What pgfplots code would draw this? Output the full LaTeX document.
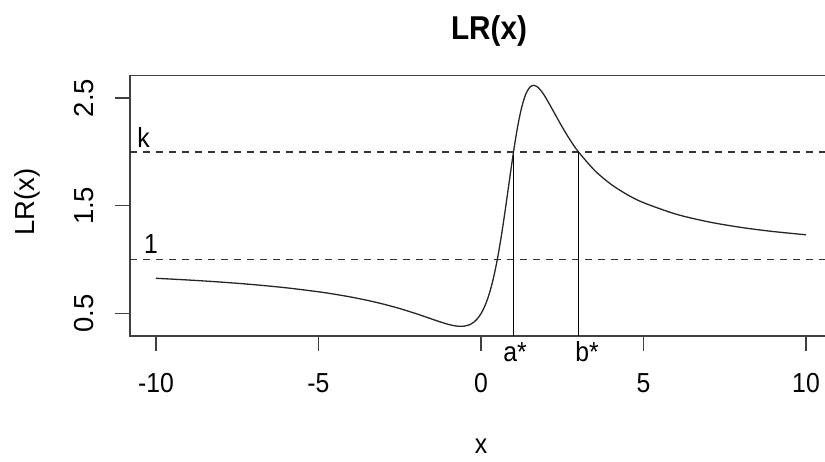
\documentclass[border=0pt]{standalone}
\usepackage{fontspec}
\setmainfont{Liberation Sans}[FakeStretch=0.9]
\newfontfamily\rotfont{Liberation Sans}
\usepackage{pgfplots}
\pgfplotsset{compat=1.18}

\begin{document}
\begin{tikzpicture}
\begin{axis}[
    at={(130bp,126bp)}, anchor=south west,
    scale only axis,
    width=702bp, height=260.3bp,
    xmin=-10.8, xmax=10.8,
    ymin=0.2926, ymax=2.7074,
    clip=false,
    axis line style={black!75, line width=1.2bp},
    tick style={black!75, line width=1.2bp},
    tick align=outside, tick pos=left,
    major tick length=15bp,
    xtick={-10,-5,0,5,10}, xticklabels={-10,-5,0,5,10},
    ytick={0.5,1.5,2.5}, yticklabels={0.5,1.5,2.5},
    xticklabel style={font=\fontsize{27.5bp}{30bp}\selectfont, anchor=center, yshift=-32bp},
    yticklabel style={font=\rotfont\fontsize{27.5bp}{30bp}\selectfont, anchor=center, rotate=90, yshift=31bp},
    xlabel={x},
    xlabel style={font=\fontsize{27.5bp}{30bp}\selectfont, at={(axis description cs:0.5,-0.4226)}, anchor=center},
    ylabel={LR(x)},
    ylabel style={font=\rotfont\fontsize{27.5bp}{30bp}\selectfont, at={(axis description cs:-0.1467,0.5148)}, anchor=center},
    title={LR(x)},
    title style={font=\bfseries\fontsize{33bp}{36bp}\selectfont, at={(axis description cs:0.5114,1.1487)}, anchor=center},
]
% reference levels 1 and k
\addplot[black!80, line width=1.2bp, dash pattern=on 7bp off 6bp] coordinates {(-10.8,2) (10.8,2)};
\addplot[black!80, line width=1.2bp, dash pattern=on 7bp off 6bp] coordinates {(-10.8,1) (10.8,1)};
% a* and b*
\addplot[black, line width=1.3bp] coordinates {(1,2) (1,0.2926)};
\addplot[black, line width=1.3bp] coordinates {(3,2) (3,0.2926)};
% LR(x)
\addplot[black!85, line width=1.3bp, smooth] coordinates {
    (-10,0.8279) (-9,0.8119) (-8,0.7927) (-7,0.7692) (-6,0.7400)
    (-5,0.7027) (-4.5,0.6800) (-4,0.6538) (-3.5,0.6235) (-3,0.5882)
    (-2.5,0.5472) (-2,0.5000) (-1.75,0.4745) (-1.5,0.4483) (-1.25,0.4227)
    (-1,0.4000) (-0.875,0.3910) (-0.75,0.3846) (-0.625,0.3820) (-0.5,0.3846)
    (-0.375,0.3946) (-0.25,0.4146) (-0.125,0.4483) (0,0.5000) (0.125,0.5752)
    (0.25,0.6800) (0.375,0.8202) (0.5,1.0000) (0.625,1.2192) (0.75,1.4706)
    (0.875,1.7385) (1,2.0000) (1.125,2.2308) (1.25,2.4118) (1.375,2.5342)
    (1.5,2.6000) (1.625,2.6180) (1.75,2.6000) (1.875,2.5575) (2,2.5000)
    (2.25,2.3659) (2.5,2.2308) (2.75,2.1077) (3,2.0000) (3.5,1.8276)
    (4,1.7000) (4.5,1.6038) (5,1.5294) (6,1.4231) (7,1.3514)
    (8,1.3000) (9,1.2615) (10,1.2317)
};
\node[font=\fontsize{27.5bp}{30bp}\selectfont] at (axis cs:-10.385,2.136) {k};
\node[font=\fontsize{27.5bp}{30bp}\selectfont] at (axis cs:-10.154,1.144) {1};
\node[font=\fontsize{27.5bp}{30bp}\selectfont] at (axis cs:1.046,0.1442) {a*};
\node[font=\fontsize{27.5bp}{30bp}\selectfont] at (axis cs:3.262,0.1442) {b*};
\end{axis}
\pgfresetboundingbox
\useasboundingbox (0,0) rectangle (825bp,462bp);
\end{tikzpicture}
\end{document}
